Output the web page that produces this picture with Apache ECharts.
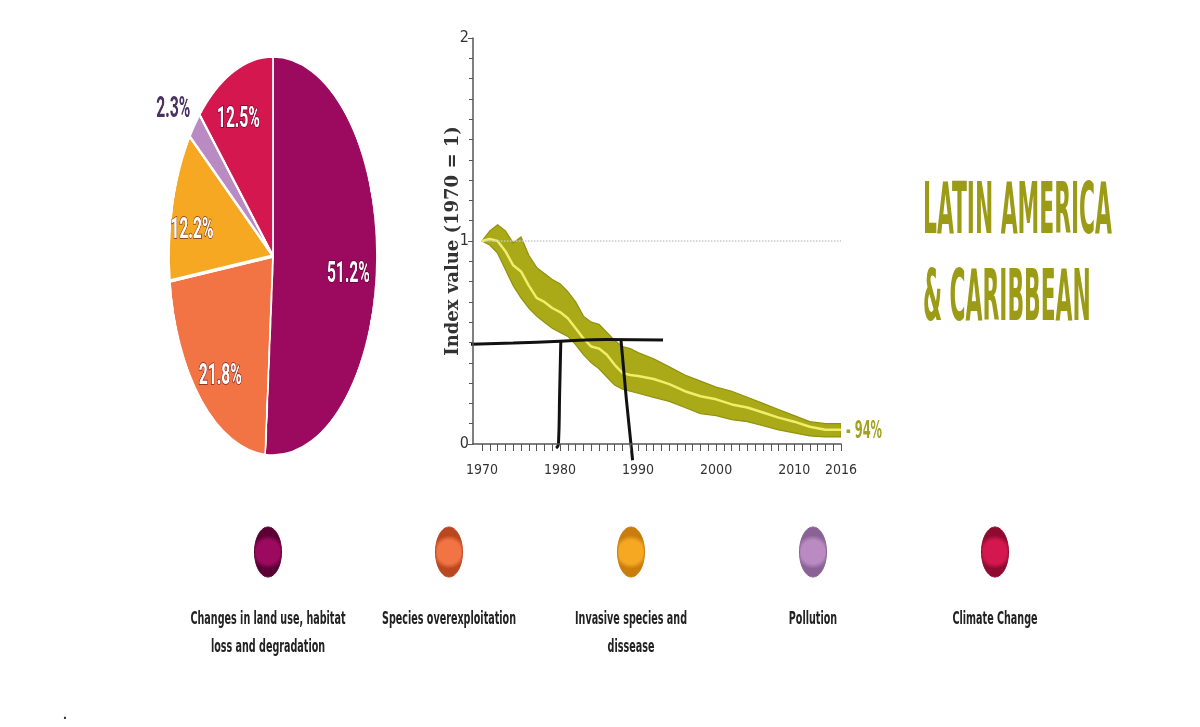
<!DOCTYPE html>
<html><head><meta charset="utf-8">
<script src="https://cdn.jsdelivr.net/npm/echarts@6/dist/echarts.min.js"></script>
<style>
html,body{margin:0;padding:0;background:#fff;overflow:hidden;}
#main{position:absolute;left:0;top:0;width:1200px;height:727px;}
#pie{position:absolute;left:-27px;top:-44.5px;width:600px;height:600px;transform:scaleX(0.52);transform-origin:300px 300px;}
</style></head><body>
<div id="main"></div><div id="pie"></div>
<script>
// ---------- data ----------
const pieNames = ['Changes in land use, habitat\nloss and degradation','Species overexploitation','Invasive species and\ndissease','Pollution','Climate Change'];
const pieValues = [51.2, 21.8, 12.2, 2.3, 12.5];
const pieColors = ['#9c0a60','#f27343','#f6a823','#b98bc2','#d4174f'];

const years = [1970,1971,1972,1973,1974,1975,1976,1977,1978,1979,1980,1981,1982,1983,1984,1985,1986,1987,1988,1989,1990,1992,1994,1996,1998,2000,2002,2004,2006,2008,2010,2012,2014,2016];
const centerVals = [1.0,1.01,1.0,0.95,0.88,0.85,0.78,0.72,0.70,0.67,0.65,0.62,0.57,0.52,0.48,0.47,0.44,0.39,0.35,0.34,0.335,0.32,0.295,0.26,0.235,0.22,0.195,0.18,0.155,0.13,0.11,0.085,0.07,0.07];
const upperVals = [1.0,1.05,1.08,1.05,0.99,1.02,0.93,0.87,0.84,0.81,0.79,0.75,0.70,0.63,0.60,0.59,0.55,0.51,0.48,0.47,0.45,0.42,0.38,0.34,0.31,0.28,0.26,0.23,0.20,0.17,0.14,0.11,0.10,0.10];
const lowerVals = [1.0,0.98,0.94,0.86,0.78,0.72,0.67,0.63,0.60,0.57,0.55,0.53,0.49,0.44,0.40,0.37,0.33,0.29,0.27,0.26,0.25,0.23,0.21,0.18,0.15,0.14,0.12,0.11,0.09,0.07,0.055,0.04,0.035,0.035];
const xTickLabels = [1970,1980,1990,2000,2010,2016];
const yTickLabels = [0,1,2];
const changeLabel = '- 94%';
const titleLines = ['LATIN AMERICA','& CARIBBEAN'];
const yAxisName = 'Index value (1970 = 1)';
// hand-drawn annotation strokes (data coordinates)
const annoH = [[1967.8,0.49],[1974,0.497],[1980,0.506],[1986,0.515],[1993.2,0.512]];
const annoV1 = [[1980.1,0.505],[1979.95,0.25],[1979.8,0.0],[1979.5,-0.02]];
const annoV2 = [[1987.8,0.517],[1988.5,0.22],[1989.3,-0.08]];

// ---------- helpers ----------
const ctx = document.createElement('canvas').getContext('2d');
function measure(text, font){ ctx.font = font; return ctx.measureText(text).width; }
const condensed = '"Liberation Sans Narrow","DejaVu Sans Condensed","Open Sans",Roboto,sans-serif';
const pairs = v => years.map((y,i)=>[y,v[i]]);

// ---------- pie ----------
const pie = echarts.init(document.getElementById('pie'), null, {renderer:'canvas'});
const pieData = pieValues.map((v,i)=>({name:pieNames[i], value:v, itemStyle:{color:pieColors[i]}}));
const labelOffsets = [[-8,13],[4,10],[-8,13],[-8,12],[-8,5]];
pie.setOption({
  animation:false,
  series:[
    {type:'pie', center:['50%','50%'], radius:[0,200], startAngle:90, clockwise:true,
     avoidLabelOverlap:false, silent:true,
     itemStyle:{borderColor:'#fff', borderWidth:3.5},
     label:{show:false}, labelLine:{show:false}, data:pieData},
    {type:'pie', center:['50%','50%'], radius:[100,200], startAngle:90, clockwise:true,
     avoidLabelOverlap:false, silent:true,
     itemStyle:{color:'rgba(0,0,0,0)'}, labelLine:{show:false},
     label:{show:true, position:'inside', formatter:'{c}%', color:'#fff', fontSize:30, fontWeight:'bold',
            fontFamily:'Roboto', textBorderColor:'rgba(70,0,35,0.55)', textBorderWidth:2},
     data:pieValues.map((v,i)=>({name:pieNames[i], value:v, label:{show:i!==3, offset:labelOffsets[i]}}))},
    {type:'pie', center:['50%','50%'], radius:[228,252], startAngle:90, clockwise:true,
     avoidLabelOverlap:false, silent:true,
     itemStyle:{color:'rgba(0,0,0,0)'}, labelLine:{show:false},
     label:{show:true, position:'inside', formatter:'{c}%', color:'#4b3260', fontSize:30, fontWeight:'bold',
            fontFamily:'Roboto'},
     data:pieValues.map((v,i)=>({name:pieNames[i], value:v, label:{show:i===3, offset:labelOffsets[i]}}))}
  ]
});

// ---------- main chart ----------
const chart = echarts.init(document.getElementById('main'), null, {renderer:'canvas'});
const tickYears = []; for (let y=1970; y<=2016; y++) tickYears.push(y);
const axisColor = '#555';
const option = {
  animation:false,
  grid:{left:473, top:38, width:368, height:406, containLabel:false, outerBoundsMode:'none'},
  xAxis:{type:'value', min:1968.85, max:2016, z:5,
    axisLine:{show:true, onZero:false, lineStyle:{color:axisColor, width:1.5}},
    axisTick:{show:true, customValues:tickYears, length:7, lineStyle:{color:axisColor}},
    axisLabel:{customValues:xTickLabels, formatter:v=>String(v), margin:19, color:'#333', fontSize:14, fontFamily:condensed},
    splitLine:{show:false}},
  yAxis:{type:'value', min:0, max:2, interval:1, z:5,
    name:yAxisName, nameLocation:'middle', nameGap:11, nameMoveOverlap:false,
    nameTextStyle:{fontFamily:'"DejaVu Serif",serif', fontWeight:'bold', fontSize:18, color:'#333'},
    axisLine:{show:true, onZero:false, lineStyle:{color:axisColor, width:1.5}},
    axisTick:{show:true, length:5, lineStyle:{color:axisColor}},
    minorTick:{show:true, splitNumber:10, length:4, lineStyle:{color:axisColor}},
    axisLabel:{customValues:yTickLabels, color:'#333', fontSize:16, margin:4, fontFamily:condensed},
    splitLine:{show:false}},
  series:[
    {name:'band', type:'custom', silent:true, clip:true, z:1,
     data:[[years[0], upperVals[0]]],
     renderItem:(params, api)=>{
       const top = years.map((y,i)=>api.coord([y, upperVals[i]]));
       const bot = years.map((y,i)=>api.coord([y, lowerVals[i]])).reverse();
       return {type:'polygon', shape:{points:top.concat(bot)},
               style:{fill:'#aaa917', stroke:'#93920c', lineWidth:1.2}};
     }},
    {name:'index', type:'line', data:pairs(centerVals), symbol:'none', z:2, lineStyle:{color:'#f0ee6a', width:2.5}, silent:true,
     markLine:{silent:true, symbol:'none', label:{show:false},
       lineStyle:{color:'#c8c8c8', type:'dotted', width:1.5},
       data:[[{coord:[years[0]+0.5,1]},{coord:[years[years.length-1],1]}]]}},
    {name:'annoH', type:'line', data:annoH, symbol:'none', smooth:true, clip:false, z:4, lineStyle:{color:'#111', width:3}, silent:true},
    {name:'annoV1', type:'line', data:annoV1, symbol:'none', smooth:true, clip:false, z:4, lineStyle:{color:'#111', width:3}, silent:true},
    {name:'annoV2', type:'line', data:annoV2, symbol:'none', smooth:true, clip:false, z:4, lineStyle:{color:'#111', width:3}, silent:true}
  ]
};
chart.setOption(option);

// graphic texts / legend
const graphics = [];
// title
const titleFont = `bold 71px ${condensed}`;
const titleScale = 189 / measure(titleLines[0], titleFont);
titleLines.forEach((t,i)=>{
  graphics.push({type:'text', x:923, y:215 + i*87, scaleX:titleScale, silent:true,
    style:{text:t, font:titleFont, fill:'#9c9b16', align:'left', verticalAlign:'middle'}});
});
// -94% end label
const endPx = chart.convertToPixel({xAxisIndex:0, yAxisIndex:0}, [years[years.length-1], centerVals[centerVals.length-1]]);
const endFont = `600 24px ${condensed}`;
const endScale = 36 / measure(changeLabel, endFont);
graphics.push({type:'text', x:endPx[0]+5, y:endPx[1]+2, scaleX:endScale, silent:true,
  style:{text:changeLabel, font:endFont, fill:'#a3a21e', align:'left', verticalAlign:'middle'}});
// legend
const legendX = [268, 449, 631, 813, 995];
const legFont = `600 17px ${condensed}`;
const legScale = 155 / measure(pieNames[0].split('\n')[0], legFont);
const darker = ['#5a0035','#b9471f','#c97d0c','#8a6295','#8f0a31'];
pieNames.forEach((n,i)=>{
  graphics.push({type:'ellipse', silent:true, shape:{cx:legendX[i], cy:552, rx:13.5, ry:25},
    style:{fill:new echarts.graphic.RadialGradient(0.5,0.5,0.6,[{offset:0,color:pieColors[i]},{offset:0.7,color:pieColors[i]},{offset:1,color:darker[i]}]),
           stroke:darker[i], lineWidth:1}});
  graphics.push({type:'text', x:legendX[i], y:606, scaleX:legScale, silent:true,
    style:{text:n, font:legFont, fill:'#222', align:'center', verticalAlign:'top', lineHeight:28}});
});
graphics.push({type:'text', x:63, y:708, silent:true, style:{text:'.', font:'bold 14px sans-serif', fill:'#333'}});
chart.setOption({graphic:graphics});
</script>
</body></html>
